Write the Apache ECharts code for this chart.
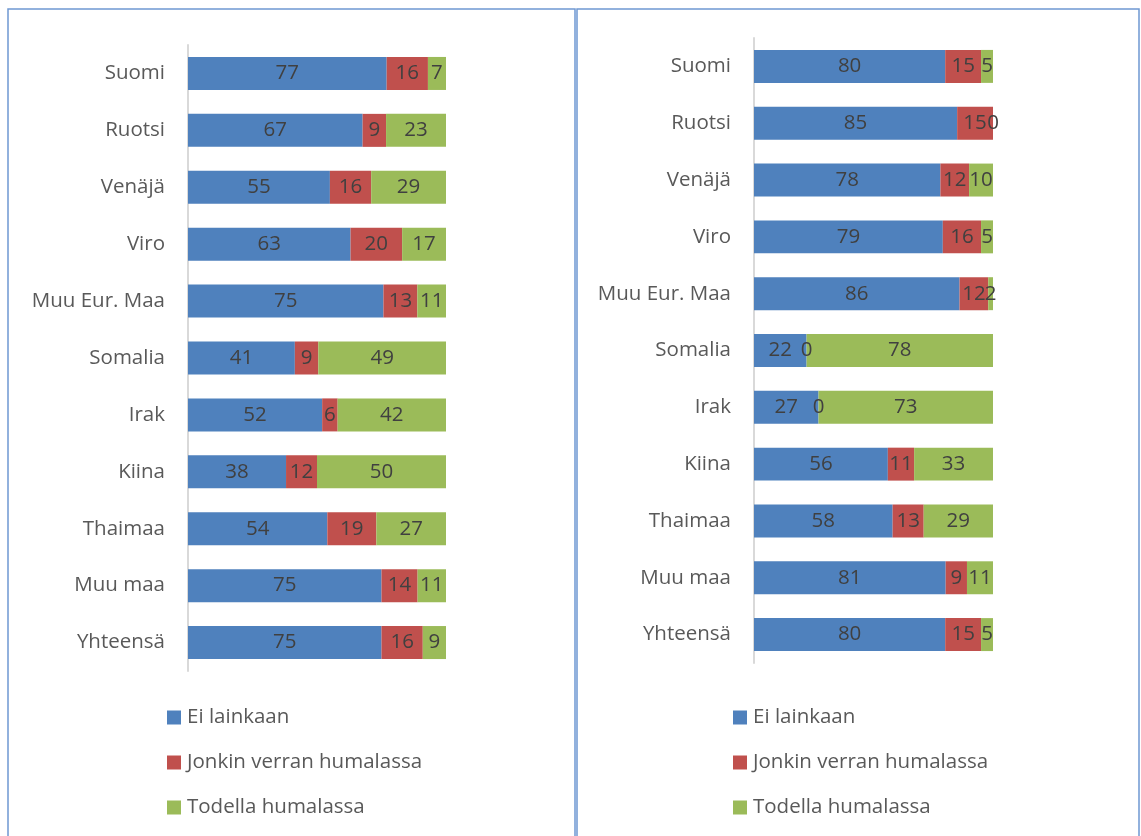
<!DOCTYPE html>
<html><head><meta charset="utf-8">
<script src="https://cdn.jsdelivr.net/npm/echarts@6/dist/echarts.min.js"></script>
<style>html,body{margin:0;padding:0;background:#fff}#c{width:1141px;height:836px}</style>
</head><body><div id="c"></div>
<script>
const categories = ['Suomi','Ruotsi','Venäjä','Viro','Muu Eur. Maa','Somalia','Irak','Kiina','Thaimaa','Muu maa','Yhteensä'];
const seriesNames = ['Ei lainkaan','Jonkin verran humalassa','Todella humalassa'];
const leftEi = [77,67,55,63,75,41,52,38,54,75,75];
const leftJonkin = [16,9,16,20,13,9,6,12,19,14,16];
const leftTodella = [7,23,29,17,11,49,42,50,27,11,9];
const rightEi = [80,85,78,79,86,22,27,56,58,81,80];
const rightJonkin = [15,15,12,16,12,0,0,11,13,9,15];
const rightTodella = [5,0,10,5,2,78,73,33,29,11,5];
const colors = ['#4F81BD','#C0504D','#9BBB59'];

const FONT = 'Open Sans';
const FS = 20.5;
function pct(arrs){
  const sums = arrs[0].map((_,i)=>arrs.reduce((s,a)=>s+a[i],0));
  return arrs.map(a=>a.map((v,i)=>({value: v/sums[i]*100, raw: v})));
}
function makeSeries(arrs, idx){
  const p = pct(arrs);
  return p.map((d,k)=>({
    name: seriesNames[k], type:'bar', stack:'s'+idx, xAxisIndex:idx, yAxisIndex:idx,
    data:d, barCategoryGap:'42%',
    itemStyle:{color:colors[k]},
    label:{show:true, position:'inside', color:'#404040', fontFamily:FONT, fontSize:FS,
      formatter: pr=>String(pr.data.raw)},
    emphasis:{disabled:true}
  }));
}
const chart = echarts.init(document.getElementById('c'), null, {renderer:'canvas'});
const yAx = (idx)=>({gridIndex:idx, type:'category', data:categories, inverse:true,
  axisLine:{lineStyle:{color:'#D9D9D9', width:2}}, axisTick:{show:false},
  axisLabel:{color:'#595959', fontFamily:FONT, fontSize:FS, margin:23}});
const xAx = (idx)=>({gridIndex:idx, type:'value', min:0, max:100, show:false});
const legend = (left)=>({orient:'vertical', left:left, top:707, padding:0, itemWidth:14, itemHeight:14, itemGap:24,
  icon:'rect', data:seriesNames, textStyle:{color:'#595959', fontFamily:FONT, fontSize:FS, lineHeight:20, padding:[0,0,0,1]}, selectedMode:false});
chart.setOption({
  animation:false,
  grid:[{left:188, top:45, width:258, height:626},{left:754, top:38, width:239, height:625}],
  xAxis:[xAx(0), xAx(1)],
  yAxis:[yAx(0), yAx(1)],
  legend:[legend(167), legend(733)],
  graphic:[
    {type:'rect', shape:{x:8, y:9, width:567, height:900}, style:{fill:'none', stroke:'#6F98D2', lineWidth:1.5}, silent:true},
    {type:'rect', shape:{x:577, y:9, width:562, height:900}, style:{fill:'none', stroke:'#6F98D2', lineWidth:1.5}, silent:true}
  ],
  series:[...makeSeries([leftEi,leftJonkin,leftTodella],0), ...makeSeries([rightEi,rightJonkin,rightTodella],1)]
});
</script></body></html>
